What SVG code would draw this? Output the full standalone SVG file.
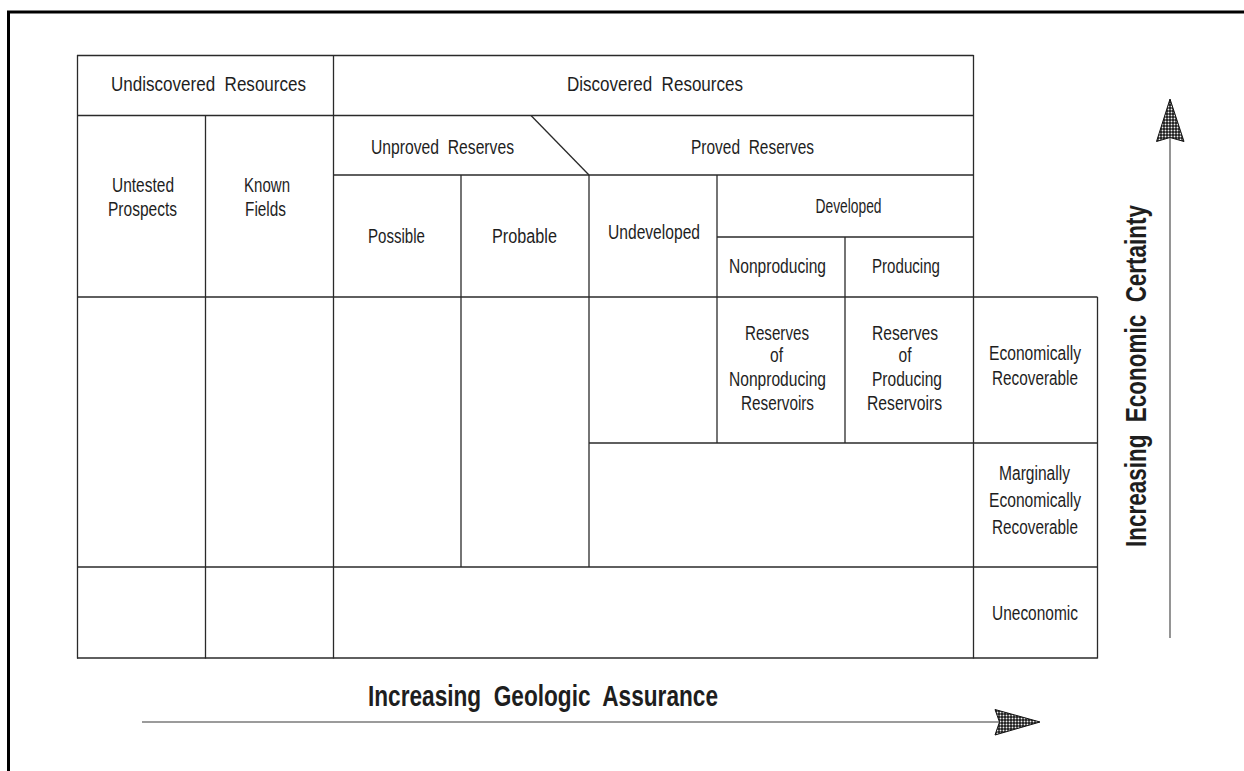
<svg xmlns="http://www.w3.org/2000/svg" width="1244" height="771" viewBox="0 0 1244 771">
<style>
.g{stroke:#2a2a2a;stroke-width:1.3;fill:none}
.t{font-family:"Liberation Sans Narrow","Liberation Sans",Arial,sans-serif;font-size:20px;fill:#1e1e1e;text-anchor:middle;white-space:pre}
.b{font-family:"Liberation Sans Narrow","Liberation Sans",Arial,sans-serif;font-size:29px;font-weight:bold;fill:#1e1e1e;text-anchor:middle;white-space:pre}
.shaft{stroke:#7a7a7a;stroke-width:1.6;fill:none}
.head{fill:url(#dots);stroke:#111;stroke-width:1}
</style>
<defs>
<pattern id="dots" width="3" height="3" patternUnits="userSpaceOnUse">
<rect width="3" height="3" fill="#1a1a1a"/>
<circle cx="1.5" cy="1.5" r="0.95" fill="#f0f0f0"/>
</pattern>
</defs>
<rect width="1244" height="771" fill="#fff"/>
<g id="frame">
<path d="M8.5,771 V12 H1244" fill="none" stroke="#000" stroke-width="3"/>
</g>
<g id="grid">
<line class="g" x1="77" y1="55.5" x2="973.5" y2="55.5"/>
<line class="g" x1="77" y1="115.5" x2="973.5" y2="115.5"/>
<line class="g" x1="333.5" y1="175" x2="973.5" y2="175"/>
<line class="g" x1="717" y1="237" x2="973.5" y2="237"/>
<line class="g" x1="77" y1="297" x2="1097.5" y2="297"/>
<line class="g" x1="589" y1="443" x2="1097.5" y2="443"/>
<line class="g" x1="77" y1="567" x2="1097.5" y2="567"/>
<line class="g" x1="77" y1="658" x2="1097.5" y2="658"/>
<line class="g" x1="77.5" y1="55" x2="77.5" y2="658.5"/>
<line class="g" x1="205.5" y1="115" x2="205.5" y2="658.5"/>
<line class="g" x1="333.5" y1="55" x2="333.5" y2="658.5"/>
<line class="g" x1="461" y1="175" x2="461" y2="567"/>
<line class="g" x1="589" y1="175" x2="589" y2="567"/>
<line class="g" x1="717" y1="175" x2="717" y2="443"/>
<line class="g" x1="845" y1="237" x2="845" y2="443"/>
<line class="g" x1="973.5" y1="55" x2="973.5" y2="658.5"/>
<line class="g" x1="1097.5" y1="297" x2="1097.5" y2="658.5"/>
<line class="g" x1="531" y1="115.5" x2="589" y2="175" stroke-width="1"/>
</g>
<g id="undiscovered"><text class="t" xml:space="preserve" x="208.5" y="91" textLength="195" lengthAdjust="spacingAndGlyphs">Undiscovered  Resources</text></g>
<g id="discovered"><text class="t" xml:space="preserve" x="655" y="91" textLength="176" lengthAdjust="spacingAndGlyphs">Discovered  Resources</text></g>
<g id="untested">
<text class="t" x="143" y="192" textLength="62" lengthAdjust="spacingAndGlyphs">Untested</text>
<text class="t" x="142.5" y="216" textLength="69" lengthAdjust="spacingAndGlyphs">Prospects</text>
</g>
<g id="known">
<text class="t" x="267" y="192" textLength="46" lengthAdjust="spacingAndGlyphs">Known</text>
<text class="t" x="265.5" y="216" textLength="41" lengthAdjust="spacingAndGlyphs">Fields</text>
</g>
<g id="unproved"><text class="t" xml:space="preserve" x="442.5" y="154" textLength="143" lengthAdjust="spacingAndGlyphs">Unproved  Reserves</text></g>
<g id="proved"><text class="t" xml:space="preserve" x="752.5" y="154" textLength="123" lengthAdjust="spacingAndGlyphs">Proved  Reserves</text></g>
<g id="possible"><text class="t" x="396.5" y="243" textLength="57" lengthAdjust="spacingAndGlyphs">Possible</text></g>
<g id="probable"><text class="t" x="524.5" y="243" textLength="65" lengthAdjust="spacingAndGlyphs">Probable</text></g>
<g id="undeveloped"><text class="t" x="654" y="239" textLength="92" lengthAdjust="spacingAndGlyphs">Undeveloped</text></g>
<g id="developed"><text class="t" x="848.5" y="213" textLength="66" lengthAdjust="spacingAndGlyphs">Developed</text></g>
<g id="nonproducing"><text class="t" x="777.5" y="273" textLength="97" lengthAdjust="spacingAndGlyphs">Nonproducing</text></g>
<g id="producing"><text class="t" x="906" y="273" textLength="68" lengthAdjust="spacingAndGlyphs">Producing</text></g>
<g id="reserves-nonproducing">
<text class="t" x="777" y="340" textLength="64" lengthAdjust="spacingAndGlyphs">Reserves</text>
<text class="t" x="776.5" y="362" textLength="13" lengthAdjust="spacingAndGlyphs">of</text>
<text class="t" x="777.5" y="386" textLength="97" lengthAdjust="spacingAndGlyphs">Nonproducing</text>
<text class="t" x="777.5" y="410" textLength="73" lengthAdjust="spacingAndGlyphs">Reservoirs</text>
</g>
<g id="reserves-producing">
<text class="t" x="905" y="340" textLength="66" lengthAdjust="spacingAndGlyphs">Reserves</text>
<text class="t" x="905" y="362" textLength="13" lengthAdjust="spacingAndGlyphs">of</text>
<text class="t" x="907" y="386" textLength="70" lengthAdjust="spacingAndGlyphs">Producing</text>
<text class="t" x="904.5" y="410" textLength="75" lengthAdjust="spacingAndGlyphs">Reservoirs</text>
</g>
<g id="econ-recoverable">
<text class="t" x="1035" y="360" textLength="92" lengthAdjust="spacingAndGlyphs">Economically</text>
<text class="t" x="1035" y="385" textLength="86" lengthAdjust="spacingAndGlyphs">Recoverable</text>
</g>
<g id="marginal">
<text class="t" x="1034.5" y="480" textLength="71" lengthAdjust="spacingAndGlyphs">Marginally</text>
<text class="t" x="1035" y="507" textLength="92" lengthAdjust="spacingAndGlyphs">Economically</text>
<text class="t" x="1035" y="534" textLength="86" lengthAdjust="spacingAndGlyphs">Recoverable</text>
</g>
<g id="uneconomic"><text class="t" x="1035" y="620" textLength="86" lengthAdjust="spacingAndGlyphs">Uneconomic</text></g>
<g id="axis-x">
<text class="b" xml:space="preserve" x="543" y="706" textLength="350" lengthAdjust="spacingAndGlyphs">Increasing  Geologic  Assurance</text>
</g>
<g id="axis-y">
<text class="b" xml:space="preserve" transform="translate(1146,376) rotate(-90)" x="0" y="0" textLength="342" lengthAdjust="spacingAndGlyphs">Increasing  Economic  Certainty</text>
</g>
<g id="connectors">
<line class="shaft" x1="142" y1="722" x2="999" y2="722"/>
<polygon class="head" points="995,709.5 1040,722 995,735 999.5,722"/>
<line class="shaft" x1="1170" y1="638" x2="1170" y2="138"/>
<polygon class="head" points="1170,99 1184,141.5 1170,137.5 1156.5,141.5"/>
</g>
</svg>
